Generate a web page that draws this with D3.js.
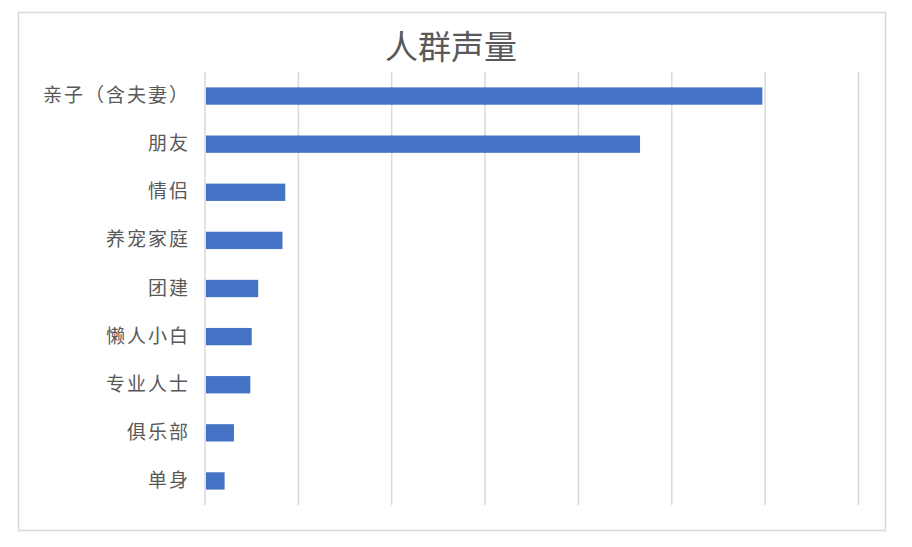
<!DOCTYPE html>
<html>
<head>
<meta charset="utf-8">
<script src="https://cdn.jsdelivr.net/npm/d3@7"></script>
<style>
  body { margin: 0; background: #fff; }
  svg { display: block; font-family: "Noto Sans CJK SC", "Noto Sans", sans-serif; }
</style>
</head>
<body>
<svg width="912" height="547"></svg>
<script>
// 人群声量 data
var categories = ['亲子（含夫妻）', '朋友', '情侣', '养宠家庭', '团建', '懒人小白', '专业人士', '俱乐部', '单身'];
var values     = [5970, 4660, 860, 830, 570, 500, 485, 310, 210];
var tickValues = [0, 1000, 2000, 3000, 4000, 5000, 6000, 7000];

window.onload = function() {
  var svg = d3.select('svg');

  // chart frame
  svg.append('rect')
      .attr('x', 18.5).attr('y', 12.5)
      .attr('width', 867).attr('height', 518)
      .attr('fill', '#fff')
      .attr('stroke', '#d9d9d9')
      .attr('stroke-width', 1.5);

  svg.append('text')
      .attr('x', 451).attr('y', 59)
      .attr('text-anchor', 'middle')
      .style('font-size', '33px')
      .style('fill', '#595959')
      .text('人群声量');

  var x = d3.scaleLinear().domain([0, 7000]).range([205, 858.5]);
  var y = d3.scaleBand().domain(categories).range([72, 505]).paddingInner(0.64).paddingOuter(0.32);

  // vertical gridlines
  svg.append('g')
      .selectAll('line')
      .data(tickValues)
      .enter()
      .append('line')
        .attr('x1', function(d) { return x(d); })
        .attr('x2', function(d) { return x(d); })
        .attr('y1', 72).attr('y2', 505)
        .attr('stroke', '#d9d9d9')
        .attr('stroke-width', 1.5);

  svg.append('g')
      .selectAll('rect')
      .data(values)
      .enter()
      .append('rect')
        .attr('x', x(0) + 1)
        .attr('y', function(d, i) { return y(categories[i]); })
        .attr('width', function(d) { return x(d) - x(0) - 1; })
        .attr('height', y.bandwidth())
        .attr('fill', '#4472c4');

  // category axis, labels only
  var yAxis = svg.append('g')
      .attr('transform', 'translate(' + x(0) + ',0)')
      .call(d3.axisLeft(y).tickSize(0).tickPadding(15));
  yAxis.select('.domain').remove();
  yAxis.selectAll('text')
      .style('font-size', '19px')
      .style('letter-spacing', '2px')
      .style('fill', '#595959')
      .style('font-family', '"Noto Sans CJK SC", sans-serif');
};
</script>
</body>
</html>
